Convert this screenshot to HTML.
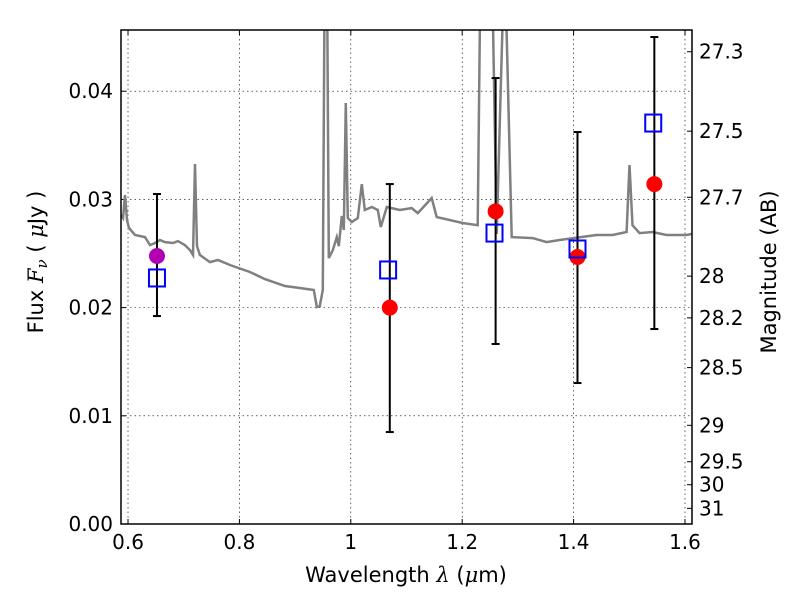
<!DOCTYPE html>
<html><head><meta charset="utf-8"><style>
body{margin:0;background:#fff}
svg text{font-family:"DejaVu Sans","Liberation Sans",sans-serif;fill:#000}
</style></head><body>
<svg id="chart" width="800" height="600" xmlns="http://www.w3.org/2000/svg"></svg>
<script>
const xTicks=[0.6,0.8,1.0,1.2,1.4,1.6];
const xTickLabels=["0.6","0.8","1","1.2","1.4","1.6"];
const yTicks=[0,0.01,0.02,0.03,0.04];
const yTickLabels=["0.00","0.01","0.02","0.03","0.04"];
const magTicks=[27.3,27.5,27.7,28,28.2,28.5,29,29.5,30,31];
const magLabels=["27.3","27.5","27.7","28","28.2","28.5","29","29.5","30","31"];
const specWave=[0.5874,0.5910,0.5946,0.5982,0.6018,0.6126,0.6305,0.6395,0.6484,0.6574,0.6664,0.6807,0.6897,0.7022,0.7112,0.7166,0.7202,0.7238,0.7291,0.7471,0.7614,0.7830,0.8188,0.8457,0.8816,0.9085,0.9336,0.9390,0.9444,0.9498,0.9534,0.9570,0.9605,0.9677,0.9749,0.9785,0.9839,0.9874,0.9910,0.9946,1.0018,1.0126,1.0197,1.0251,1.0377,1.0484,1.0538,1.0646,1.0879,1.1094,1.1202,1.1453,1.1543,1.2009,1.2278,1.2332,1.2529,1.2619,1.2762,1.2888,1.3265,1.3516,1.3749,1.4412,1.4700,1.4951,1.5004,1.5058,1.5184,1.5417,1.5668,1.6027,1.6117];
const specFlux=[0.02856,0.02828,0.03041,0.02810,0.02736,0.02671,0.02652,0.02578,0.02597,0.02625,0.02606,0.02597,0.02615,0.02578,0.02532,0.02486,0.03327,0.02569,0.02486,0.02421,0.02440,0.02394,0.02329,0.02264,0.02200,0.02181,0.02163,0.02006,0.02015,0.02163,0.0530,0.0530,0.02458,0.02532,0.02652,0.02569,0.02847,0.02717,0.03891,0.02828,0.02791,0.02828,0.03142,0.02902,0.02930,0.02902,0.02745,0.02930,0.02902,0.02920,0.02874,0.03013,0.02837,0.02782,0.02762,0.0530,0.0530,0.02680,0.0530,0.02652,0.02643,0.02606,0.02625,0.02671,0.02671,0.02699,0.03318,0.02762,0.02689,0.02699,0.02671,0.02671,0.02680];
const obsWave=[0.652,1.070,1.260,1.407,1.545];
const obsFlux=[0.02477,0.0200,0.0289,0.02468,0.03142];
const errLow=[0.01922,0.0085,0.01664,0.01303,0.01802];
const errHigh=[0.0305,0.03142,0.04122,0.03623,0.04501];
const modelWave=[0.652,1.067,1.258,1.407,1.543];
const modelFlux=[0.02274,0.02348,0.02689,0.02542,0.03706];

const L=121,R=692,T=30,B=524;
const x0=0.5874,x1=1.6126,y0=0,y1=0.04566;
const X=v=>L+(v-x0)/(x1-x0)*(R-L);
const Y=v=>B-(v-y0)/(y1-y0)*(B-T);
const NS="http://www.w3.org/2000/svg";
const svg=document.getElementById('chart');
function mk(tag,attrs,parent){const e=document.createElementNS(NS,tag);for(const k in attrs)e.setAttribute(k,attrs[k]);(parent||svg).appendChild(e);return e;}

const clip=mk('clipPath',{id:'pc'});mk('rect',{x:L,y:T,width:R-L,height:B-T},clip);
xTicks.forEach((t,i)=>{const x=X(t);
 const g=mk('line',{x1:x,x2:x,y1:T,y2:B,stroke:'#000','stroke-width':0.6,'stroke-dasharray':'1.5,3'});
 
 
 mk('line',{x1:x,x2:x,y1:B,y2:B-5,stroke:'#000'});mk('line',{x1:x,x2:x,y1:T,y2:T+5,stroke:'#000'});
 const tx=mk('text',{x:x,y:B+25,'text-anchor':'middle','font-size':20});tx.textContent=xTickLabels[i];
 
 
});
yTicks.forEach((t,i)=>{const y=Y(t);
 const g=mk('line',{x1:L,x2:R,y1:y,y2:y,stroke:'#000','stroke-width':0.6,'stroke-dasharray':'1.5,3'});
 
 
 mk('line',{x1:L,x2:L+5,y1:y,y2:y,stroke:'#000'});
 const tx=mk('text',{x:L-8,y:y+7,'text-anchor':'end','font-size':20});tx.textContent=yTickLabels[i];
 
 
});
magTicks.forEach((m,i)=>{const f=Math.pow(10,(23.9-m)/2.5);const y=Y(f);
 mk('line',{x1:R-5,x2:R,y1:y,y2:y,stroke:'#000'});
 const tx=mk('text',{x:R+7,y:y+7,'font-size':20});tx.textContent=magLabels[i];
 
 
});
const pts=specWave.map((w,i)=>X(w).toFixed(1)+','+Y(specFlux[i]).toFixed(1)).join(' ');
const sp=mk('polyline',{points:pts,fill:'none',stroke:'#808080','stroke-width':2.5,'clip-path':'url(#pc)'});


obsWave.forEach((w,i)=>{const x=X(w);
 const e=mk('g',{stroke:'#000','stroke-width':2});
 
 
 mk('line',{x1:x,x2:x,y1:Y(errLow[i]),y2:Y(errHigh[i])},e);
 mk('line',{x1:x-4,x2:x+4,y1:Y(errLow[i]),y2:Y(errLow[i])},e);
 mk('line',{x1:x-4,x2:x+4,y1:Y(errHigh[i]),y2:Y(errHigh[i])},e);
});
obsWave.forEach((w,i)=>{
 const c=mk('circle',{cx:X(w),cy:Y(obsFlux[i]),r:8,fill:i===0?'#b000b0':'#ff0000'});
 
 
});
modelWave.forEach((w,i)=>{
 const s=mk('rect',{x:X(w)-8,y:Y(modelFlux[i])-8.5,width:16,height:17,fill:'none',stroke:'#0000ff','stroke-width':2});
 
 
});
const fr=mk('rect',{x:L,y:T,width:R-L,height:B-T,fill:'none',stroke:'#000','stroke-width':1.5});


const xl=mk('text',{x:406,y:582,'text-anchor':'middle','font-size':21});
xl.innerHTML='Wavelength  <tspan font-style="italic" font-family="DejaVu Serif,serif">λ</tspan> (<tspan font-style="italic" font-family="DejaVu Serif,serif">μ</tspan>m)';


const yl=mk('text',{x:0,y:0,'text-anchor':'middle','font-size':21,transform:'translate(43,262) rotate(-90)'});
yl.setAttribute('xml:space','preserve');
yl.innerHTML='Flux  <tspan font-style="italic" font-family="DejaVu Serif,serif">F<tspan font-size="15" dy="4">ν</tspan></tspan><tspan dy="-4">  (  </tspan><tspan font-style="italic" font-family="DejaVu Serif,serif">μ</tspan>Jy )';


const rl=mk('text',{x:0,y:0,'text-anchor':'middle','font-size':21,transform:'translate(776,272) rotate(-90)'});
rl.textContent='Magnitude (AB)';


</script>
</body></html>
